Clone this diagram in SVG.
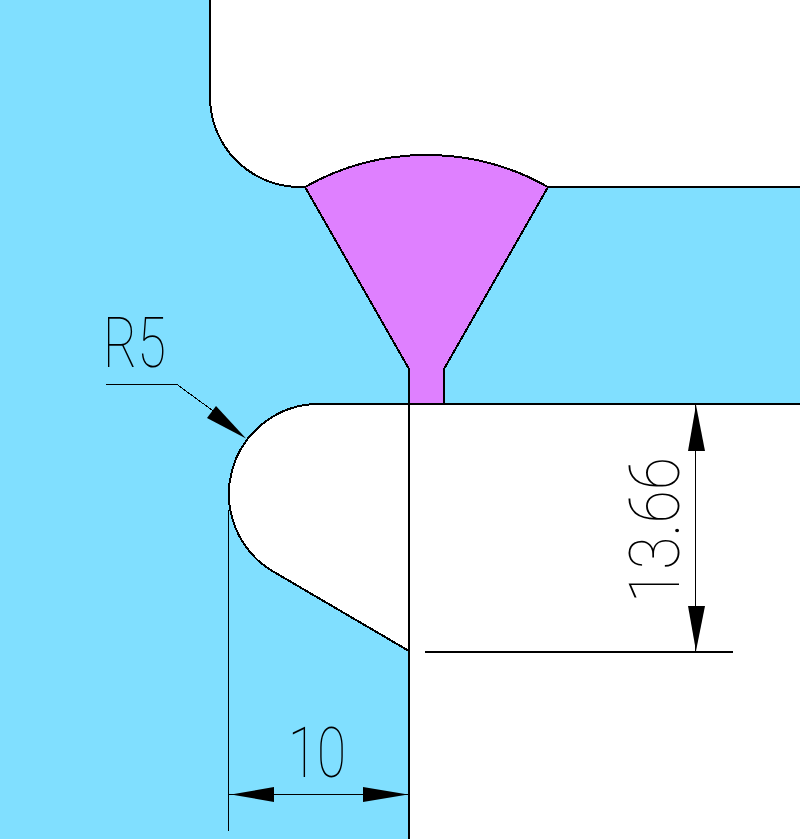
<svg xmlns="http://www.w3.org/2000/svg" width="800" height="839" viewBox="0 0 800 839">
<style>
.o{fill:none;stroke:#000;stroke-width:2;shape-rendering:crispEdges}
.t{fill:none;stroke:#000;stroke-width:1;shape-rendering:crispEdges}
.a{fill:#000;stroke:none}
.d{font-family:"Roboto","Liberation Sans",sans-serif;font-weight:100;font-size:70px;fill:#000}
</style>
<rect id="background" width="800" height="839" fill="#80DFFF"/>
<path id="upper-void" d="M210,0V97A90,90 0 0 0 300,187H305A246.7,246.7 0 0 1 548,187H800V0Z" fill="#fff"/>
<path id="lower-void" d="M800,404H319A90,90 0 0 0 274,572L409,651V839H800Z" fill="#fff"/>
<path id="weld" d="M305,187A246.7,246.7 0 0 1 548,187L444,369V404H409V369Z" fill="#DF80FF"/>
<g id="outlines">
<path class="o" d="M210,0V97A90,90 0 0 0 300,187H305"/>
<path class="o" d="M305,187A246.700,246.700 0 0 1 548,187H800"/>
<path class="o" d="M305,187L409,369V839"/>
<path class="o" d="M548,187L444,369V404"/>
<path class="o" d="M800,404H319A90,90 0 0 0 274,572L409,651"/>
</g>
<g id="dimension-r5">
<path class="t" d="M106,384.500H177L216,413"/>
<path class="a" d="M246,438.500L216,406L207,418Z"/>
<text class="d" textLength="63" lengthAdjust="spacingAndGlyphs" x="103" y="367">R5</text>
</g>
<g id="dimension-13-66">
<path class="t" d="M695.500,404V652"/>
<path class="o" d="M425,652H733"/>
<path class="a" d="M696,405L705,451H688Z"/>
<path class="a" d="M696,651L705,606H688Z"/>
<text class="d" textLength="146" lengthAdjust="spacingAndGlyphs" transform="translate(679,603) rotate(-90)">13.66</text>
</g>
<g id="dimension-10">
<path class="t" d="M228.500,510V831"/>
<path class="t" d="M229,794.500H409"/>
<path class="a" d="M231,794.500L274,787V802Z"/>
<path class="a" d="M408,794.500L363,787V802Z"/>
<text class="d" textLength="58" lengthAdjust="spacingAndGlyphs" x="288" y="777">10</text>
</g>
</svg>
